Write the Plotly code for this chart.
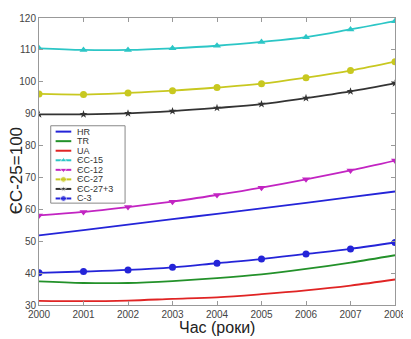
import plotly.graph_objects as go

years = [2000, 2001, 2002, 2003, 2004, 2005, 2006, 2007, 2008]
hr = [51.8, 53.5, 55.2, 56.9, 58.6, 60.3, 62.0, 63.8, 65.6]
tr = [37.4, 36.9, 36.9, 37.5, 38.4, 39.6, 41.3, 43.3, 45.6]
ua = [31.3, 31.2, 31.4, 31.9, 32.4, 33.4, 34.6, 36.1, 38.0]
eu15 = [110.5, 110.0, 110.0, 110.5, 111.3, 112.5, 114.0, 116.4, 119.0]
eu12 = [58.1, 59.2, 60.7, 62.4, 64.5, 66.8, 69.4, 72.2, 75.3]
eu27 = [96.2, 96.0, 96.5, 97.2, 98.2, 99.4, 101.3, 103.5, 106.3]
eu27p3 = [89.8, 89.8, 90.1, 90.8, 91.8, 93.0, 94.9, 97.0, 99.5]
c3 = [40.1, 40.5, 41.0, 41.8, 43.1, 44.4, 46.0, 47.6, 49.6]

names = ["HR", "TR", "UA", "ЄС-15", "ЄС-12", "ЄС-27", "ЄС-27+3", "С-3"]
values = [hr, tr, ua, eu15, eu12, eu27, eu27p3, c3]
colors = ["#2424d8", "#23912a", "#e02424", "#2cc6c6", "#c224c2", "#c8c820", "#333333", "#2424d8"]
symbols = [None, None, None, "triangle-up", "triangle-down", "circle", "star", "circle"]
msizes = [0, 0, 0, 7, 7, 7, 6, 7]

OFF = 8  # page body offset
W, H = 411 - OFF, 339 - OFF
PX0, PX1, PY0, PY1 = 39, 403, 12, 305  # plot area in page pixels
L, R, T, B = PX0 - OFF, 411 - PX1, PY0 - OFF, 339 - PY1
PW, PH = PX1 - PX0, PY1 - PY0

fig = go.Figure()
for name, vals, color, sym, ms in zip(names, values, colors, symbols, msizes):
    if sym is None:
        fig.add_trace(go.Scatter(x=years, y=vals, name=name, mode="lines", showlegend=False,
                                 line=dict(color=color, width=1.8, shape="spline")))
    else:
        fig.add_trace(go.Scatter(x=years, y=vals, name=name, mode="lines+markers", showlegend=False,
                                 line=dict(color=color, width=1.8, shape="spline"),
                                 marker=dict(symbol=sym, size=ms, color=color)))

# custom compact legend drawn on an overlay axis measured in plot-area pixels
lx0, ly0, lx1, ly1 = 51, 122, 127, 201  # box in page pixels
def px(xp):
    return xp - PX0
def py(yp):
    return yp - PY0

fig.add_shape(type="rect", xref="x2", yref="y2", x0=px(lx0), x1=px(lx1), y0=py(ly0), y1=py(ly1),
              line=dict(color="#888888", width=1), fillcolor="white", layer="below")
row_h = 9.75
for i, (name, color, sym, ms) in enumerate(zip(names, colors, symbols, msizes)):
    yy = py(ly0 + 6 + i * row_h)
    fig.add_trace(go.Scatter(
        x=[px(56), px(64), px(72)], y=[yy, yy, yy], mode="lines+markers" if sym else "lines",
        xaxis="x2", yaxis="y2", showlegend=False, hoverinfo="skip",
        line=dict(color=color, width=2),
        marker=dict(symbol=sym or "circle", size=[0, max(ms - 1, 0), 0], color=color)))
    fig.add_annotation(xref="x2", yref="y2", x=px(76), y=yy, text=name, showarrow=False,
                       xanchor="left", yanchor="middle",
                       font=dict(size=9, color="#333333", family="Arial, Liberation Sans"))

axis_common = dict(showline=True, linecolor="#999999", linewidth=1, mirror="ticks",
                   ticks="inside", ticklen=4, tickcolor="#999999", showgrid=False,
                   zeroline=False, ticklabeloverflow="allow",
                   tickfont=dict(family="Arial, Liberation Sans", size=10, color="#444444"))

fig.update_layout(
    width=W, height=H,
    margin=dict(l=L, r=R, t=T, b=B),
    paper_bgcolor="white", plot_bgcolor="white",
    font=dict(family="Arial, Liberation Sans"),
    xaxis=dict(range=[2000, 2008], tickvals=years, ticktext=[str(y) for y in years], **axis_common),
    yaxis=dict(range=[30, 120], tickvals=list(range(30, 121, 10)), **axis_common),
    xaxis2=dict(overlaying="x", range=[0, PW], visible=False, fixedrange=True),
    yaxis2=dict(overlaying="y", range=[PH, 0], visible=False, fixedrange=True),
    showlegend=False,
)

fig.add_annotation(xref="paper", yref="paper", x=0.5, y=-(328 - PY1) / PH,
                   text="Час (роки)", showarrow=False, xanchor="center", yanchor="middle",
                   font=dict(size=16, color="#222222", family="Arial, Liberation Sans"))
fig.add_annotation(xref="paper", yref="paper", x=-(PX0 - 16) / PW, y=(PY1 - 168) / PH,
                   text="ЄС-25=100", showarrow=False, textangle=-90, xanchor="center", yanchor="middle",
                   font=dict(size=17, color="#222222", family="Arial, Liberation Sans"))

fig.write_html("out.html")
